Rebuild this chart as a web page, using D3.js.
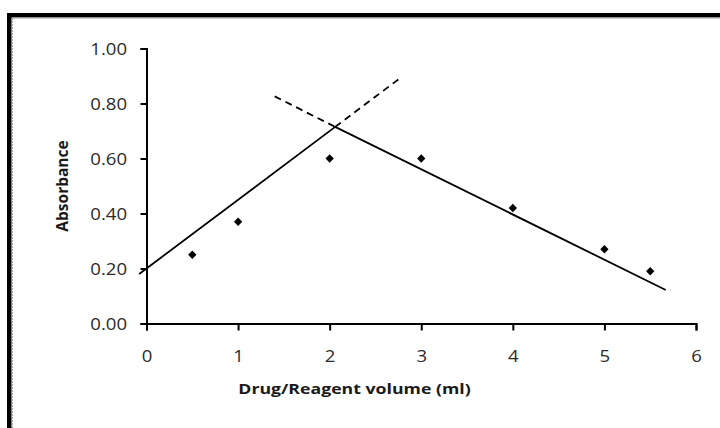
<!DOCTYPE html>
<html><head><meta charset="utf-8">
<script src="https://cdn.jsdelivr.net/npm/d3@7"></script>
<style>html,body{margin:0;padding:0;background:#fff;}svg{display:block;}</style>
</head><body>
<svg id="c" width="720" height="428"></svg>
<script>
// Data
const volumes = [0.5, 1, 2, 3, 4, 5, 5.5];
const absorbances = [0.25, 0.37, 0.60, 0.60, 0.42, 0.27, 0.19];
const xTicks = [0, 1, 2, 3, 4, 5, 6];
const yTicks = [0, 0.2, 0.4, 0.6, 0.8, 1.0];
// fitted lines (x, y) endpoints
const risingSolid = [[-0.08, 0.18], [2.06, 0.715]];
const risingDashed = [[2.06, 0.715], [2.76, 0.89]];
const fallingSolid = [[2.06, 0.715], [5.67, 0.122]];
const fallingDashed = [[1.40, 0.826], [2.06, 0.715]];

const svg = d3.select('#c');
const x = d3.scaleLinear().domain([0, 6]).range([146.5, 696]);
const y = d3.scaleLinear().domain([0, 1]).range([323.5, 48.5]);
const FONT = "'Open Sans', sans-serif";
const SX = 1.16;

// frame
svg.append('rect').attr('x', 7).attr('y', 13).attr('width', 713).attr('height', 4.5).attr('fill', '#000');
svg.append('rect').attr('x', 7).attr('y', 13).attr('width', 4.5).attr('height', 415).attr('fill', '#000');
svg.append('line').attr('x1', 12.5).attr('x2', 720).attr('y1', 18.2).attr('y2', 18.2).attr('stroke', '#bbb').attr('stroke-width', 1);
svg.append('line').attr('x1', 12.5).attr('x2', 12.5).attr('y1', 18).attr('y2', 428).attr('stroke', '#aaa').attr('stroke-width', 1.2).attr('stroke-dasharray', '2,1');

// axes
const yAxis = svg.append('g').attr('transform', `translate(${x(0)},0)`)
  .call(d3.axisLeft(y).tickValues(yTicks).tickFormat(d3.format('.2f')).tickSize(6).tickPadding(0));
const xAxis = svg.append('g').attr('transform', `translate(0,${y(0)})`)
  .call(d3.axisBottom(x).tickValues(xTicks).tickFormat(d3.format('d')).tickSize(7).tickPadding(0));
[yAxis, xAxis].forEach(g => {
  g.select('.domain').attr('stroke', '#000').attr('stroke-width', 2);
  g.selectAll('.tick line').attr('stroke', '#000').attr('stroke-width', 2);
  g.selectAll('.tick text').attr('fill', '#2a2a2a').style('font-family', FONT).style('font-size', '16px');
});
yAxis.selectAll('.tick text').attr('x', null).attr('dy', '0.35em').attr('transform', `translate(-19.5,0) scale(${SX},1)`).attr('text-anchor', 'end');
xAxis.selectAll('.tick text').attr('y', null).attr('dy', '0.35em').attr('transform', `translate(0,32.5) scale(${SX},1)`);

// fitted lines
const lineGen = d3.line().x(d => x(d[0])).y(d => y(d[1]));
[risingSolid, fallingSolid].forEach(p => svg.append('path').attr('d', lineGen(p)).attr('stroke', '#000').attr('stroke-width', 1.8).attr('fill', 'none'));
[risingDashed, fallingDashed].forEach(p => svg.append('path').attr('d', lineGen(p)).attr('stroke', '#000').attr('stroke-width', 1.8).attr('fill', 'none').attr('stroke-dasharray', '7,5'));

// points
svg.append('g').selectAll('path').data(volumes).join('path')
  .attr('transform', (d, i) => `translate(${x(d)},${y(absorbances[i])})`)
  .attr('d', d3.symbol().type(d3.symbolDiamond2).size(44))
  .attr('fill', '#000');

// axis titles
svg.append('text').attr('transform', `translate(354.5,389) scale(1.18,1)`).attr('text-anchor', 'middle').attr('dy', '0.35em')
  .style('font-family', FONT).style('font-weight', 'bold').style('font-size', '15px').attr('fill', '#1a1a1a')
  .text('Drug/Reagent volume (ml)');
svg.append('text').attr('transform', `translate(63,186) rotate(-90)`).attr('text-anchor', 'middle').attr('dy', '0.35em')
  .style('font-family', FONT).style('font-weight', 'bold').style('font-size', '15.5px').attr('fill', '#1a1a1a')
  .text('Absorbance');
</script>
</body></html>
